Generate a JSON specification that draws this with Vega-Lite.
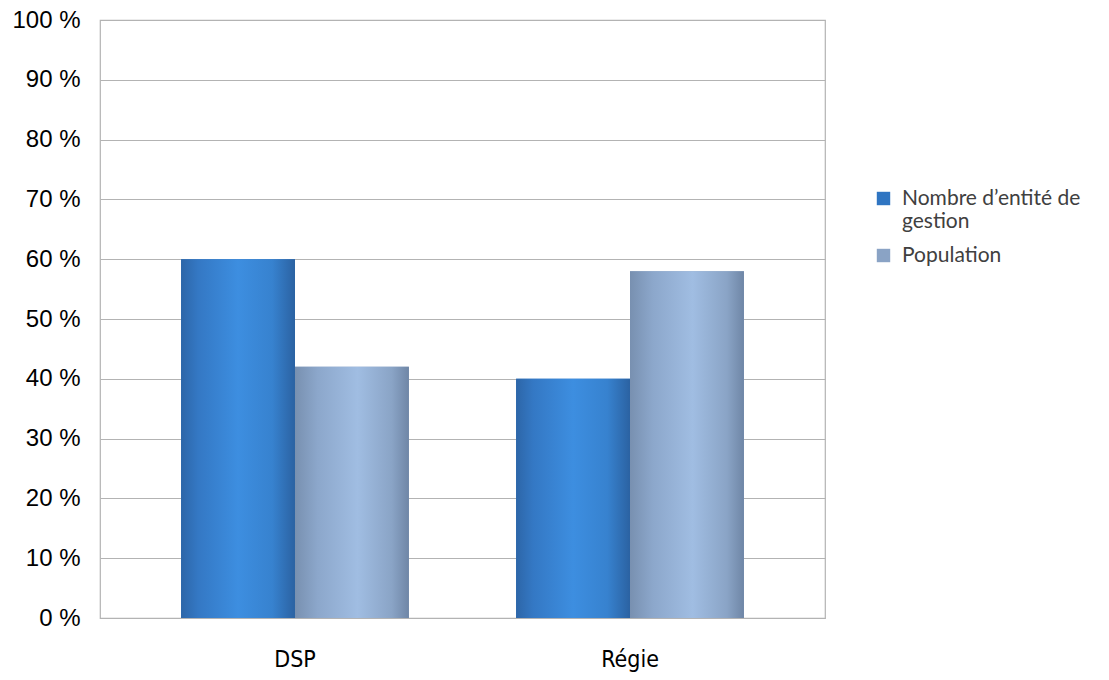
{
  "$schema": "https://vega.github.io/schema/vega-lite/v6.json",
  "autosize": {"type": "none"},
  "width": 725,
  "height": 598,
  "padding": {"left": 100, "top": 20, "right": 284, "bottom": 62},
  "background": "white",
  "config": {
    "view": {"stroke": "#B3B3B3", "strokeWidth": 1.2},
    "axis": {"grid": false}
  },
  "data": {
    "values": [
      {"categorie": "DSP", "serie": "Nombre d’entité de gestion", "valeur": 60},
      {"categorie": "DSP", "serie": "Population", "valeur": 42},
      {"categorie": "Régie", "serie": "Nombre d’entité de gestion", "valeur": 40},
      {"categorie": "Régie", "serie": "Population", "valeur": 58}
    ]
  },
  "encoding": {
    "x": {
      "field": "categorie", "type": "nominal", "sort": ["DSP", "Régie"],
      "scale": {"paddingInner": 0.32, "paddingOuter": 0.242},
      "axis": {"title": null, "ticks": false, "domain": false, "labelAngle": 0,
               "labelFont": "DejaVu Sans Condensed, Liberation Sans", "labelFontSize": 23, "labelColor": "#000000",
               "labelPadding": 30}
    },
    "xOffset": {"field": "serie", "type": "nominal", "scale": {"paddingInner": 0, "paddingOuter": 0}},
    "y": {
      "field": "valeur", "type": "quantitative",
      "scale": {"domain": [0, 100], "nice": false},
      "axis": {"title": null, "values": [0, 10, 20, 30, 40, 50, 60, 70, 80, 90, 100],
               "labelExpr": "datum.value + ' %'", "ticks": false, "domain": false,
               "grid": true, "gridColor": "#B3B3B3", "gridWidth": 1.2,
               "labelFont": "Liberation Sans", "labelFontSize": 24, "labelColor": "#000000",
               "labelPadding": 20}
    }
  },
  "layer": [
    {
      "mark": {"type": "bar"},
      "encoding": {
        "color": {
          "field": "serie", "type": "nominal",
          "scale": {"domain": ["Nombre d’entité de gestion", "Population"], "range": ["#2F75C2", "#8AA3C5"]},
          "legend": {
            "title": null, "orient": "none", "legendX": 773, "legendY": 168,
            "symbolType": "square", "symbolSize": 180, "symbolStrokeWidth": 0,
            "labelFont": "Lato", "labelFontSize": 21, "labelColor": "#404040",
            "labelLimit": 300, "rowPadding": 12, "labelOffset": 8,
            "labelExpr": "datum.label == 'Nombre d’entité de gestion' ? ['Nombre d’entité de', 'gestion'] : datum.label"
          }
        }
      }
    },
    {
      "transform": [{"filter": "datum.serie == 'Nombre d’entité de gestion'"}],
      "mark": {
        "type": "bar",
        "fill": {
          "gradient": "linear", "x1": 0, "x2": 1, "y1": 0, "y2": 0,
          "stops": [
            {"offset": 0, "color": "#2D66A8"},
            {"offset": 0.15, "color": "#3478C4"},
            {"offset": 0.5, "color": "#3D8EE0"},
            {"offset": 0.8, "color": "#3782CF"},
            {"offset": 1, "color": "#2B62A2"}
          ]
        }
      }
    },
    {
      "transform": [{"filter": "datum.serie == 'Population'"}],
      "mark": {
        "type": "bar",
        "fill": {
          "gradient": "linear", "x1": 0, "x2": 1, "y1": 0, "y2": 0,
          "stops": [
            {"offset": 0, "color": "#7890B0"},
            {"offset": 0.2, "color": "#8CA7CB"},
            {"offset": 0.55, "color": "#A0BDE2"},
            {"offset": 0.85, "color": "#8AA4C6"},
            {"offset": 1, "color": "#6F86A6"}
          ]
        }
      }
    }
  ]
}
